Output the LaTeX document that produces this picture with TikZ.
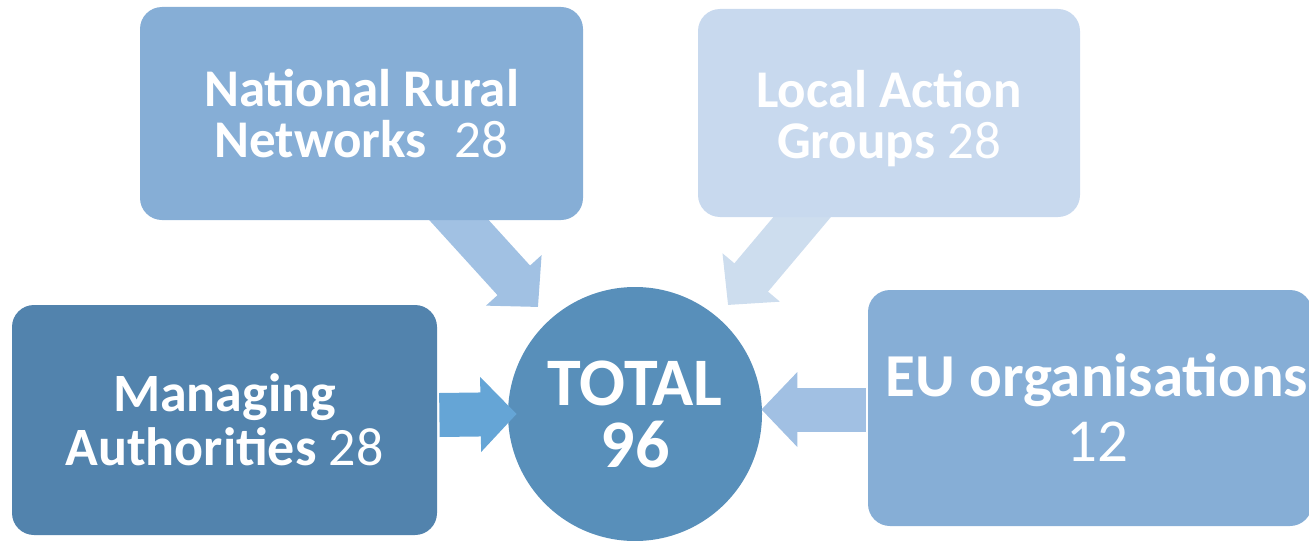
\documentclass[tikz,border=0pt]{standalone}
\usepackage{fontspec}
\setmainfont{Carlito}
\usetikzlibrary{arrows.meta,calc}
\definecolor{nrnblue}{HTML}{86AED6}
\definecolor{lagblue}{HTML}{C8D9EE}
\definecolor{mablue}{HTML}{5283AD}
\definecolor{eublue}{HTML}{86AED6}
\definecolor{totalblue}{HTML}{588FBA}
\definecolor{nrnarrow}{HTML}{A1C1E3}
\definecolor{lagarrow}{HTML}{CDDDEE}
\definecolor{maarrow}{HTML}{65A5D6}
\definecolor{euarrow}{HTML}{A1C0E3}
\pgfdeclarelayer{bg}
\pgfsetlayers{bg,main}
\tikzset{
  box/.style={rounded corners=11pt, inner sep=0pt, align=center, text=white,
    font=\fontsize{26.5}{25.5}\selectfont},
  fat/.style={line width=22pt, -{Triangle[width=36.5pt,length=18pt]}},
}

\begin{document}
\begin{tikzpicture}[x=0.5pt,y=-0.5pt]
  \useasboundingbox (0,0) rectangle (1309,540);
  % the four groups
  \node[box, fill=nrnblue, minimum width=221.5pt, minimum height=106.5pt] (nrn) at (361.5,113.5)
    {\textbf{National Rural}\\\textbf{Networks}\hspace{0.3em} 28};
  \node[box, fill=lagblue, minimum width=191pt, minimum height=104pt] (lag) at (889,113)
    {\rule{0pt}{24pt}\textbf{Local Action}\\\textbf{Groups} 28};
  \node[box, fill=mablue, minimum width=212.5pt, minimum height=115pt,
    font=\fontsize{27}{27}\selectfont] (ma) at (224.5,420)
    {\textbf{Managing}\\\textbf{Authorities} 28};
  \node[box, fill=eublue, minimum width=222pt, minimum height=118pt,
    font=\fontsize{30.5}{32.5}\selectfont] (eu) at (1090,408)
    {\hspace{7pt}\textbf{EU organisations}\\\hspace{7pt}12};
  % total and arrows, behind the boxes
  \begin{pgfonlayer}{bg}
    \node[circle, fill=totalblue, minimum size=127pt, inner sep=0pt, align=center, text=white,
      font=\fontsize{34}{31}\selectfont\bfseries] (total) at (635,414) {TOTAL\\96};
    \coordinate (nrntip) at (538,307);
    \coordinate (lagtip) at (728,305);
    \draw[fat, nrnarrow] ($(nrn.south)+(80.5,-19)$) -- (nrntip);
    \draw[fat, lagarrow] ($(lag.south)+(-72,-18)$) -- (lagtip);
    \draw[fat, maarrow] ($(ma.east |- total.center)+(2,1)$) -- ($(total.west)+(9,0)$);
    \draw[fat, euarrow] ($(eu.west)+(-2,1.5)$) -- ($(eu.west -| total.east)+(-1,1.5)$);
  \end{pgfonlayer}
\end{tikzpicture}
\end{document}
